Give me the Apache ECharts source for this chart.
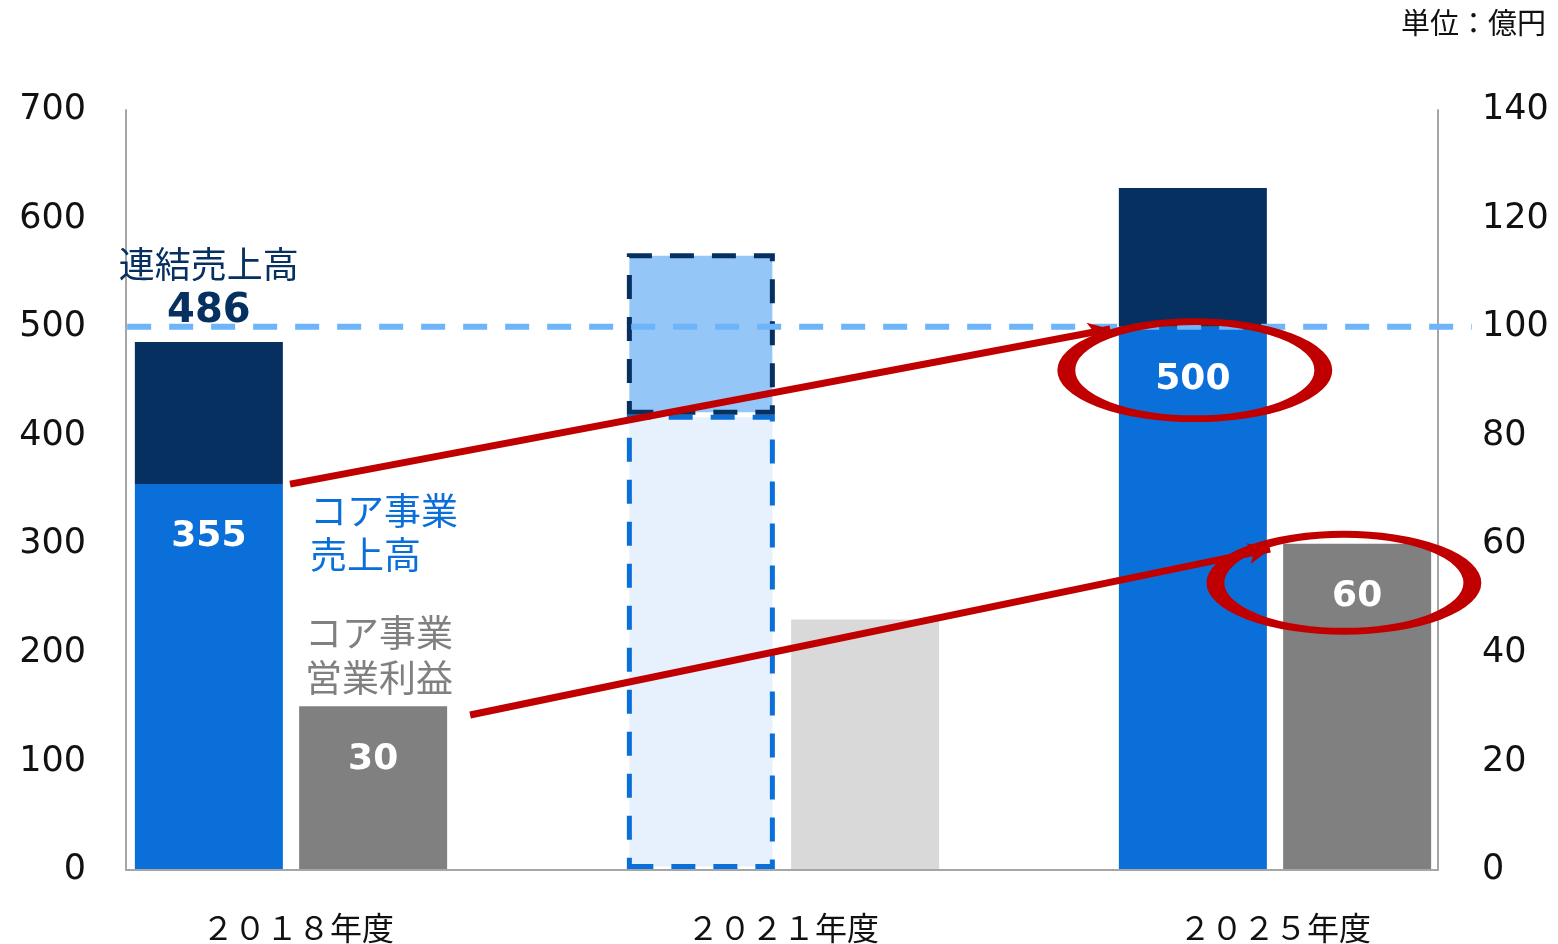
<!DOCTYPE html>
<html><head><meta charset="utf-8">
<script src="https://cdn.jsdelivr.net/npm/echarts@6/dist/echarts.min.js"></script>
<style>html,body{margin:0;padding:0;background:#fff}#c{width:1558px;height:944px}</style>
</head><body><div id="c"></div>
<script>
const categories = ['２０１８年度', '２０２１年度', '２０２５年度'];
const coreSales = [355, 419, 500];          // コア事業売上高 (left axis)
const otherSales = [131, 149, 128];         // 連結売上高 − コア事業売上高 (left axis)
const coreProfit = [30, 46, 60];            // コア事業営業利益 (right axis)
const consolidated2018 = 486;
const target = 500;
const leftTicks = [0, 700, 100];
const rightTicks = [0, 140, 20];
// annotation helper positions (hidden value x-axis 0..3, left-axis values)
const arrow1 = [[0.498, 355], [2.165, 498]];
const arrow2 = [[0.864, 142], [2.49, 295]];
const ellipses = [[2.337, 460], [2.64, 264]];
const targetLine = [[0.167, target], [2.9, target]];

const FONT = "'DejaVu Sans', 'Noto Sans CJK JP', sans-serif";
const JP = "'Noto Sans CJK JP', sans-serif";
const BLUE = '#0a6fd8', NAVY = '#063060', GRAY = '#808080';

const chart = echarts.init(document.getElementById('c'));
const axisLine = { show: true, lineStyle: { color: '#a6a6a6', width: 2 } };
chart.setOption({
  animation: false,
  textStyle: { fontFamily: FONT },
  grid: [
    { left: 126, right: 120, top: 110, bottom: 74 },
    { left: 45, right: 37, top: 110, bottom: 74 }
  ],
  xAxis: [
    { type: 'category', gridIndex: 0, data: [''], axisLine: axisLine, axisTick: { show: false }, axisLabel: { show: false } },
    { type: 'category', gridIndex: 1,
      data: categories.map((c, i) => i === 0 ? { value: c, textStyle: { padding: [0, 0, 0, 14] } } : c),
      axisLine: { show: false }, axisTick: { show: false },
      axisLabel: { margin: 43, fontSize: 32, color: '#111', fontFamily: JP } },
    { type: 'value', gridIndex: 1, min: 0, max: 3, show: false }
  ],
  yAxis: [
    { type: 'value', gridIndex: 0, min: leftTicks[0], max: leftTicks[1], interval: leftTicks[2], axisLine: axisLine,
      axisTick: { show: false }, splitLine: { show: false }, axisLabel: { fontSize: 35, color: '#111', margin: 40 } },
    { type: 'value', gridIndex: 0, position: 'right', min: rightTicks[0], max: rightTicks[1], interval: rightTicks[2], axisLine: axisLine,
      axisTick: { show: false }, splitLine: { show: false }, axisLabel: { fontSize: 35, color: '#111', margin: 44 } },
    { type: 'value', gridIndex: 1, min: leftTicks[0], max: leftTicks[1], show: false },
    { type: 'value', gridIndex: 1, min: rightTicks[0], max: rightTicks[1], show: false }
  ],
  series: [
    { type: 'bar', name: 'core', xAxisIndex: 1, yAxisIndex: 2, stack: 's', barWidth: 148, barGap: '11%', z: 2,
      data: coreSales.map((v, i) => i === 1
        ? { value: v, itemStyle: { color: '#e7f1fd', borderColor: BLUE, borderWidth: 5, borderType: [24, 18] }, label: { show: false } }
        : { value: v }),
      itemStyle: { color: BLUE },
      label: { show: true, position: 'insideTop', distance: 35, color: '#fff', fontWeight: 'bold', fontSize: 36 } },
    { type: 'bar', name: 'other', xAxisIndex: 1, yAxisIndex: 2, stack: 's', barWidth: 148, z: 2,
      data: otherSales.map((v, i) => i === 1
        ? { value: v, itemStyle: { color: '#94c6f8', borderColor: NAVY, borderWidth: 5, borderType: [24, 18] } }
        : { value: v }),
      itemStyle: { color: NAVY } },
    { type: 'bar', name: 'profit', xAxisIndex: 1, yAxisIndex: 3, barWidth: 148, z: 2,
      data: coreProfit.map((v, i) => i === 1
        ? { value: v, itemStyle: { color: '#d9d9d9' }, label: { show: false } }
        : { value: v }),
      itemStyle: { color: GRAY },
      label: { show: true, position: 'insideTop', distance: 35, color: '#fff', fontWeight: 'bold', fontSize: 36 } },
    { type: 'line', xAxisIndex: 2, yAxisIndex: 2, data: targetLine, symbol: 'none', z: 3,
      lineStyle: { color: '#6db4f8', width: 6, type: [24, 18] } },
    { type: 'scatter', xAxisIndex: 2, yAxisIndex: 2, z: 4, symbolSize: 0,
      data: [[0.333, consolidated2018]], itemStyle: { opacity: 1 },
      label: { show: true, position: 'top', distance: 6, formatter: '{a|連結売上高}\n{b|' + consolidated2018 + '}',
        rich: { a: { fontSize: 36, color: NAVY, fontFamily: JP, lineHeight: 48 },
                b: { fontSize: 40, color: NAVY, fontWeight: 'bold', lineHeight: 48 } } } },
    { type: 'line', xAxisIndex: 2, yAxisIndex: 2, data: [], z: 5,
      markLine: { silent: true, symbol: ['none', 'arrow'], symbolSize: [16, 22], label: { show: false },
        lineStyle: { color: '#c00000', width: 7, type: 'solid' },
        data: [
          [{ coord: arrow1[0] }, { coord: arrow1[1] }],
          [{ coord: arrow2[0] }, { coord: arrow2[1] }]
        ] } },
    { type: 'scatter', xAxisIndex: 2, yAxisIndex: 2, z: 6, symbol: 'circle', symbolSize: [257, 97],
      data: ellipses, itemStyle: { color: 'rgba(0,0,0,0)', borderColor: '#c00000', borderWidth: 11, opacity: 1 } }
  ],
  graphic: [
    { type: 'text', right: 12, top: 8, style: { text: '単位：億円', fontSize: 29, fill: '#111', fontFamily: JP } },
    { type: 'text', left: 310, top: 489, style: { text: 'コア事業\n売上高', fontSize: 37, lineHeight: 44, fill: BLUE, fontFamily: JP } },
    { type: 'text', left: 305, top: 610, style: { text: 'コア事業\n営業利益', fontSize: 37, lineHeight: 45, fill: GRAY, fontFamily: JP } }
  ]
});
</script></body></html>
